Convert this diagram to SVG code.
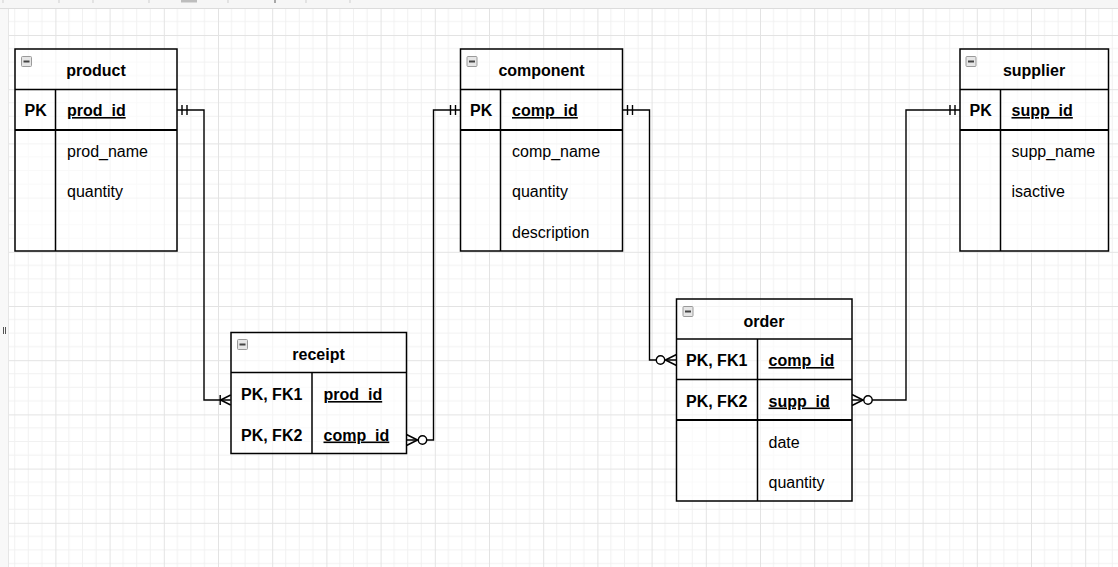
<svg xmlns="http://www.w3.org/2000/svg" width="1118" height="567" viewBox="0 0 1118 567">
<style>
.tb{fill:#fff;fill-opacity:0.6;stroke:#000;stroke-width:1.5}
.sep{stroke:#000;stroke-width:1.5;fill:none}
.thk{stroke:#000;stroke-width:2.2;fill:none}
.t{font-family:"Liberation Sans",Arial,sans-serif;font-size:16px;fill:#000}
.b{font-weight:bold}
.u{text-decoration:underline}
.ttl{font-family:"Liberation Sans",Arial,sans-serif;font-size:16px;font-weight:bold;fill:#000;text-anchor:middle}
.ic{fill:#e6e6e6;stroke:#9a9a9a;stroke-width:1}
.icm{stroke:#444;stroke-width:2}
.ln{fill:none;stroke:#000;stroke-width:1.4}
.mk{fill:none;stroke:#000;stroke-width:1.4}
</style>
<defs>
<pattern id="grid" patternUnits="userSpaceOnUse" x="1.2" y="35" width="54.2" height="54.2">
<path d="M13.55 0V54.2M27.1 0V54.2M40.65 0V54.2M0 13.55H54.2M0 27.1H54.2M0 40.65H54.2" stroke="#f1f1f1" stroke-width="1" fill="none"/>
<path d="M0.5 0V54.2M0 0.5H54.2" stroke="#e3e3e3" stroke-width="1" fill="none"/>
</pattern>
<marker id="mandOne" markerUnits="userSpaceOnUse" viewBox="-25 -10 30 20" refX="0" refY="0" markerWidth="30" markerHeight="20" orient="auto-start-reverse" style="overflow:visible">
<path class="mk" d="M-5 -5V5M-10 -5V5"/>
</marker>
<marker id="oneMany" markerUnits="userSpaceOnUse" viewBox="-25 -10 30 20" refX="0" refY="0" markerWidth="30" markerHeight="20" orient="auto-start-reverse" style="overflow:visible">
<path class="mk" d="M-10.5 -5V5M-10 0L0 -5M-10 0L0 5"/>
</marker>
<marker id="zeroMany" markerUnits="userSpaceOnUse" viewBox="-25 -10 30 20" refX="0" refY="0" markerWidth="30" markerHeight="20" orient="auto-start-reverse" style="overflow:visible">
<path class="mk" d="M-11 0L0 -5.5M-11 0L0 5.5"/>
<circle cx="-16" cy="0" r="4.2" fill="#fff" stroke="#000" stroke-width="1.4"/>
</marker>
</defs>

<g id="background">
<rect x="0" y="0" width="1118" height="567" fill="#fff"/>
<rect x="8" y="8" width="1110" height="559" fill="url(#grid)"/>
<rect x="0" y="0" width="1118" height="8" fill="#f6f6f6"/>
<line x1="0" y1="8.5" x2="1118" y2="8.5" stroke="#dcdcdc" stroke-width="1"/>
<rect x="0" y="9" width="8" height="558" fill="#f8f8f8"/>
<line x1="8.5" y1="9" x2="8.5" y2="567" stroke="#e6e6e6" stroke-width="1"/>
<path d="M3 0V3M59 0V3M93 0V3M149 0V3M228 0V3M306 0V3M350 0V3" stroke="#cfcfcf" stroke-width="1"/>
<rect x="181" y="0" width="16" height="2.5" fill="#bdbdbd"/>
<rect x="274" y="0" width="2" height="3" fill="#a8a8a8"/>
<path d="M3.5 327V334M5.5 327V334" stroke="#555" stroke-width="1"/>
</g>

<g id="connectors">
<path class="ln" d="M177 110H204V400H230.7" marker-start="url(#mandOne)" marker-end="url(#oneMany)"/>
<path class="ln" d="M406.5 440H433.5V110H460.5" marker-start="url(#zeroMany)" marker-end="url(#mandOne)"/>
<path class="ln" d="M622.5 110H649.5V360H676.5" marker-start="url(#mandOne)" marker-end="url(#zeroMany)"/>
<path class="ln" d="M852 400H906V110H960" marker-start="url(#zeroMany)" marker-end="url(#mandOne)"/>
</g>

<g id="product">
<rect class="tb" x="15" y="49" width="162" height="202"/>
<line class="sep" x1="15" y1="89.5" x2="177" y2="89.5"/>
<line class="thk" x1="15" y1="130" x2="177" y2="130"/>
<line class="sep" x1="55.5" y1="89.5" x2="55.5" y2="251"/>
<rect class="ic" x="21.5" y="56.5" width="10" height="10" rx="1"/>
<line class="icm" x1="23.5" y1="61.5" x2="29.5" y2="61.5"/>
<text class="ttl" x="96" y="76">product</text>
<text class="t b" x="24.5" y="116">PK</text>
<text class="t b u" x="67" y="116">prod_id</text>
<text class="t" x="67" y="157">prod_name</text>
<text class="t" x="67" y="197">quantity</text>
</g>

<g id="component">
<rect class="tb" x="460.5" y="49" width="162" height="202"/>
<line class="sep" x1="460.5" y1="89.5" x2="622.5" y2="89.5"/>
<line class="thk" x1="460.5" y1="130" x2="622.5" y2="130"/>
<line class="sep" x1="500.5" y1="89.5" x2="500.5" y2="251"/>
<rect class="ic" x="467" y="56.5" width="10" height="10" rx="1"/>
<line class="icm" x1="469" y1="61.5" x2="475" y2="61.5"/>
<text class="ttl" x="541.5" y="76">component</text>
<text class="t b" x="470" y="116">PK</text>
<text class="t b u" x="512" y="116">comp_id</text>
<text class="t" x="512" y="157">comp_name</text>
<text class="t" x="512" y="197">quantity</text>
<text class="t" x="512" y="238">description</text>
</g>

<g id="supplier">
<rect class="tb" x="960" y="49" width="148.5" height="202"/>
<line class="sep" x1="960" y1="89.5" x2="1108.5" y2="89.5"/>
<line class="thk" x1="960" y1="130" x2="1108.5" y2="130"/>
<line class="sep" x1="1000.5" y1="89.5" x2="1000.5" y2="251"/>
<rect class="ic" x="966" y="56.5" width="10" height="10" rx="1"/>
<line class="icm" x1="968" y1="61.5" x2="974" y2="61.5"/>
<text class="ttl" x="1034" y="76">supplier</text>
<text class="t b" x="969.5" y="116">PK</text>
<text class="t b u" x="1011.5" y="116">supp_id</text>
<text class="t" x="1011.5" y="157">supp_name</text>
<text class="t" x="1011.5" y="197">isactive</text>
</g>

<g id="receipt">
<rect class="tb" x="231" y="332.5" width="175.5" height="121"/>
<line class="sep" x1="231" y1="372.5" x2="406.5" y2="372.5"/>
<line class="sep" x1="312" y1="372.5" x2="312" y2="453.5"/>
<rect class="ic" x="237.5" y="339.5" width="10" height="10" rx="1"/>
<line class="icm" x1="239.5" y1="344.5" x2="245.5" y2="344.5"/>
<text class="ttl" x="318.5" y="359.5">receipt</text>
<text class="t b" x="241" y="400">PK, FK1</text>
<text class="t b u" x="323.5" y="400">prod_id</text>
<text class="t b" x="241" y="440.5">PK, FK2</text>
<text class="t b u" x="323.5" y="440.5">comp_id</text>
</g>

<g id="order">
<rect class="tb" x="676.5" y="299" width="175.5" height="202"/>
<line class="sep" x1="676.5" y1="339" x2="852" y2="339"/>
<line class="sep" x1="676.5" y1="379.5" x2="852" y2="379.5"/>
<line class="thk" x1="676.5" y1="420" x2="852" y2="420"/>
<line class="sep" x1="757.5" y1="339" x2="757.5" y2="501"/>
<rect class="ic" x="683" y="306.5" width="10" height="10" rx="1"/>
<line class="icm" x1="685" y1="311.5" x2="691" y2="311.5"/>
<text class="ttl" x="764" y="326.5">order</text>
<text class="t b" x="686" y="366">PK, FK1</text>
<text class="t b u" x="768.5" y="366">comp_id</text>
<text class="t b" x="686" y="406.5">PK, FK2</text>
<text class="t b u" x="768.5" y="406.5">supp_id</text>
<text class="t" x="768.5" y="447.5">date</text>
<text class="t" x="768.5" y="488">quantity</text>
</g>
</svg>
